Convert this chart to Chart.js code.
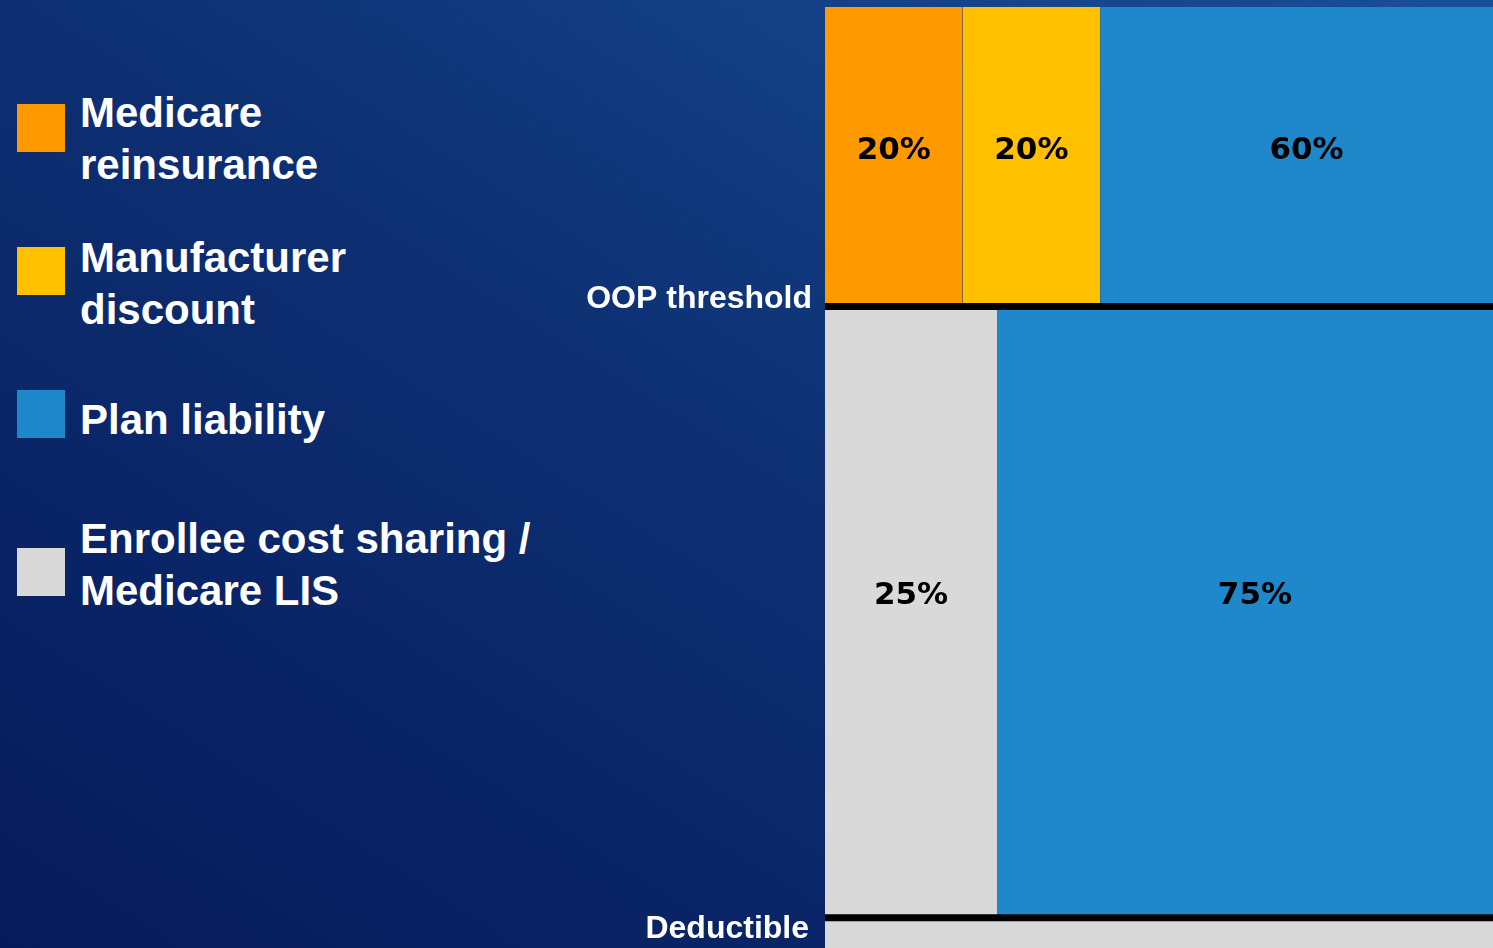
<!DOCTYPE html>
<html>
<head>
<meta charset="utf-8">
<title>Part D benefit</title>
<script src="https://cdn.jsdelivr.net/npm/chart.js@4.4.1/dist/chart.umd.min.js"></script>
<style>
  html, body { margin: 0; padding: 0; }
  body {
    width: 1493px;
    height: 948px;
    overflow: hidden;
    position: relative;
    background: linear-gradient(to top right, #061a5a 0%, #0d2f72 50%, #1a4f96 100%);
  }
  #chart { position: absolute; left: 0; top: 0; }
  .swatch { position: absolute; width: 48px; height: 48px; }
  .label {
    position: absolute;
    left: 80px;
    font: bold 42px "Liberation Sans", Arial, sans-serif;
    line-height: 52px;
    color: #fff;
    white-space: nowrap;
  }
</style>
</head>
<body>
<div id="legend"></div>
<canvas id="chart" width="1493" height="948"></canvas>
<script>
// benefit phases, bottom to top (vertical scale is schematic, not to scale)
const phases = ['Deductible', 'Initial coverage', 'Catastrophic'];
const phaseStart = [0, 1, 21.13];
const phaseEnd = [1, 21.13, 31];

const thresholdNames = ['Deductible', 'OOP threshold'];
const thresholdLevels = [1, 21.13];

// payers in stacking order (left to right)
const payers = ['Medicare reinsurance', 'Manufacturer discount', 'Enrollee cost sharing / Medicare LIS', 'Plan liability'];
// share of spending (%) in each phase
const reinsuranceShare = [0, 0, 20];
const manufacturerShare = [0, 0, 20];
const enrolleeShare = [100, 25, 0];
const planShare = [0, 75, 60];

const shares = [reinsuranceShare, manufacturerShare, enrolleeShare, planShare];
const colors = ['#ff9900', '#ffc000', '#d9d9d9', '#1f88ca'];

// legend (order as on the slide)
const legendOrder = [0, 1, 3, 2];
const legendLines = [['Medicare', 'reinsurance'], ['Manufacturer', 'discount'], ['Plan liability'], ['Enrollee cost sharing /', 'Medicare LIS']];
const legendTop = [87, 232, 394, 513];
const swatchTop = [104, 247, 390, 548];

const legendEl = document.getElementById('legend');
legendOrder.forEach((k, i) => {
  const sw = document.createElement('div');
  sw.className = 'swatch';
  sw.style.left = '17px';
  sw.style.top = swatchTop[i] + 'px';
  sw.style.background = colors[k];
  legendEl.appendChild(sw);
  const lb = document.createElement('div');
  lb.className = 'label';
  lb.style.top = legendTop[i] + 'px';
  lb.innerHTML = legendLines[i].join('<br>');
  legendEl.appendChild(lb);
});

const xMax = 97.1; // right edge of the slide cuts the plan block

const datasets = [];
thresholdLevels.forEach((t, i) => {
  datasets.push({
    label: thresholdNames[i],
    data: [{x: 0, y: t}, {x: 100, y: t}],
    borderColor: '#000',
    borderWidth: 7,
    pointRadius: 0,
    fill: false,
    order: 0
  });
});
phases.forEach((p, i) => {
  let acc = 0;
  shares.forEach((s, k) => {
    if (!s[i]) return;
    datasets.push({
      label: payers[k],
      data: [{x: acc, y: phaseStart[i]}, {x: acc + s[i], y: phaseStart[i]}],
      fill: {value: phaseEnd[i]},
      backgroundColor: colors[k],
      borderColor: 'transparent',
      borderWidth: 0,
      pointRadius: 0,
      order: 1,
      share: s[i],
      phase: i
    });
    acc += s[i];
  });
});

const blockLabels = {
  id: 'blockLabels',
  afterDraw(chart) {
    const {ctx, chartArea, scales: {x, y}} = chart;
    ctx.save();
    ctx.font = 'bold 31px "DejaVu Sans"';
    ctx.fillStyle = '#000';
    ctx.textAlign = 'center';
    ctx.textBaseline = 'middle';
    chart.data.datasets.forEach(ds => {
      if (!ds.share || ds.phase === 0) return;
      const cx = (x.getPixelForValue(ds.data[0].x) + x.getPixelForValue(ds.data[1].x)) / 2;
      const cy = (y.getPixelForValue(ds.data[0].y) + y.getPixelForValue(ds.fill.value)) / 2;
      ctx.fillText(ds.share + '%', cx, cy - (ds.phase === 1 ? 16 : 6));
    });

    ctx.font = 'bold 32px "Liberation Sans"';
    ctx.fillStyle = '#fff';
    ctx.textAlign = 'right';
    ctx.textBaseline = 'alphabetic';
    thresholdLevels.forEach((t, i) => {
      const py = y.getPixelForValue(t);
      // deductible label hangs under its line, OOP label sits on it
      ctx.fillText(thresholdNames[i], chartArea.left - (i === 0 ? 16 : 13), i === 0 ? py + 20 : py + 1);
    });
    ctx.restore();
  }
};

new Chart(document.getElementById('chart'), {
  type: 'line',
  data: { datasets: datasets },
  plugins: [blockLabels],
  options: {
    responsive: false,
    animation: false,
    devicePixelRatio: 1,
    events: [],
    layout: {
      padding: { left: 825, top: 7, right: 0, bottom: 0 }
    },
    plugins: {
      legend: { display: false },
      tooltip: { enabled: false }
    },
    scales: {
      x: { type: 'linear', min: 0, max: xMax, display: false },
      y: { type: 'linear', min: 0, max: 31, display: false }
    }
  }
});
</script>
</body>
</html>
